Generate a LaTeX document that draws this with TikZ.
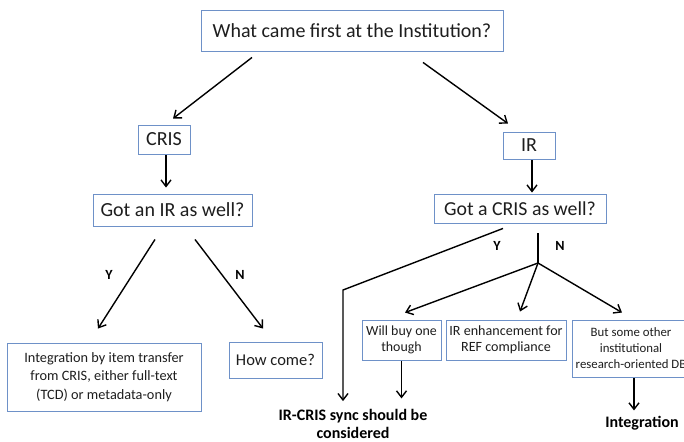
\documentclass[tikz,border=0pt]{standalone}
\usepackage{fontspec}
\setmainfont{Carlito}
\usetikzlibrary{arrows.meta,calc}
\definecolor{boxblue}{RGB}{110,145,200}
\definecolor{txt}{RGB}{30,30,30}
\tikzset{
  box/.style={draw=boxblue, line width=0.9pt, fill=white, text=txt, align=center, inner sep=0pt, anchor=center},
  arr/.style={draw=black, line width=1.4pt, -{Straight Barb[length=6.5pt,width=10pt,line width=1.4pt]}},
  ln/.style={draw=black, line width=1.4pt},
  yn/.style={font=\fontsize{14}{15}\selectfont\bfseries, text=black, inner sep=0pt},
  lbl/.style={font=\fontsize{16}{18}\selectfont\bfseries, text=black, align=center, inner sep=0pt}
}
\begin{document}
\begin{tikzpicture}[x=1pt,y=-1pt]
\useasboundingbox (0,0) rectangle (684,441);
\clip (0,0) rectangle (684,441);
% nodes
\node[box, minimum width=302pt, minimum height=41pt, font=\fontsize{20}{22}\selectfont] (title) at (352,30.5) {What came first at the Institution?};
\node[box, minimum width=52pt, minimum height=29pt, font=\fontsize{20}{22}\selectfont] (cris) at (164,139.5) {CRIS};
\node[box, minimum width=52pt, minimum height=27pt, font=\fontsize{20}{22}\selectfont] (ir) at (529,145.5) {IR};
\node[box, minimum width=159pt, minimum height=32pt, font=\fontsize{20}{22}\selectfont] (gotir) at (172.5,210) {Got an IR as well?};
\node[box, minimum width=172pt, minimum height=29pt, font=\fontsize{19.8}{22}\selectfont] (gotcris) at (520,208.5) {Got a CRIS as well?};
\node[box, minimum width=194pt, minimum height=68pt, font=\fontsize{14.3}{18.5}\selectfont] (integ) at (104,377) {Integration by item transfer\\from CRIS, either full-text\\(TCD) or metadata-only};
\node[box, minimum width=93pt, minimum height=36pt, font=\fontsize{16.5}{18}\selectfont] (howcome) at (275.5,360) {How come?};
\node[box, minimum width=79pt, minimum height=40pt, font=\fontsize{13.9}{16}\selectfont] (willbuy) at (401.5,340) {Will buy one\\though};
\node[box, minimum width=120pt, minimum height=40pt, font=\fontsize{14.1}{16}\selectfont] (ref) at (506,340) {IR enhancement for\\REF compliance};
\node[box, minimum width=118pt, minimum height=57pt, font=\fontsize{12.8}{16}\selectfont] (other) at (631,348.5) {But some other\\institutional\\research-oriented DB};
\node[lbl] (sync) at (353,424) {IR-CRIS sync should be\\considered};
\node[lbl] (integration) at (642,423) {Integration};
% labels
\node[yn] (y1) at (109,275) {Y};
\node[yn] (n1) at (240,275) {N};
\node[yn] (y2) at (497,246) {Y};
\node[yn] (n2) at (560,246) {N};
% coordinates
\coordinate (ycorner) at (343,290);
\coordinate (branch) at (538,263);
% connectors
\draw[arr] ($(title.south)+(-100,6)$) -- ($(cris.north)+(9,-6)$);
\draw[arr] ($(title.south)+(71,11)$) -- ($(ir.north)+(-21,-8)$);
\draw[arr] ($(cris.south)+(2,1)$) -- ($(gotir.north)+(-6.5,-6)$);
\draw[arr] ($(ir.south)+(3,1)$) -- ($(gotcris.north)+(12,-1)$);
\draw[arr] ($(gotir.south)+(-17.5,13)$) -- ($(integ.north)+(-6,-14)$);
\draw[arr] ($(gotir.south)+(22.5,13)$) -- ($(howcome.north)+(-12.5,-13)$);
\draw[arr] ($(gotcris.south)+(-17,5)$) -- (ycorner) -- (ycorner |- {$(sync.north)+(0,-8)$});
\draw[ln] ($(gotcris.south)+(18,10)$) -- (branch);
\draw[arr] (branch) -- ($(willbuy.north)+(3.5,-7)$);
\draw[arr] (branch) -- ($(ref.north)+(14,-8)$);
\draw[arr] (branch) -- ($(other.north)+(-9,-7)$);
\draw[arr] ($(willbuy.south)+(0,1)$) -- ($(willbuy.south)+(0,38)$);
\draw[arr] ($(other.south)+(3,1)$) -- ($(other.south)+(3,33)$);
\end{tikzpicture}
\end{document}
